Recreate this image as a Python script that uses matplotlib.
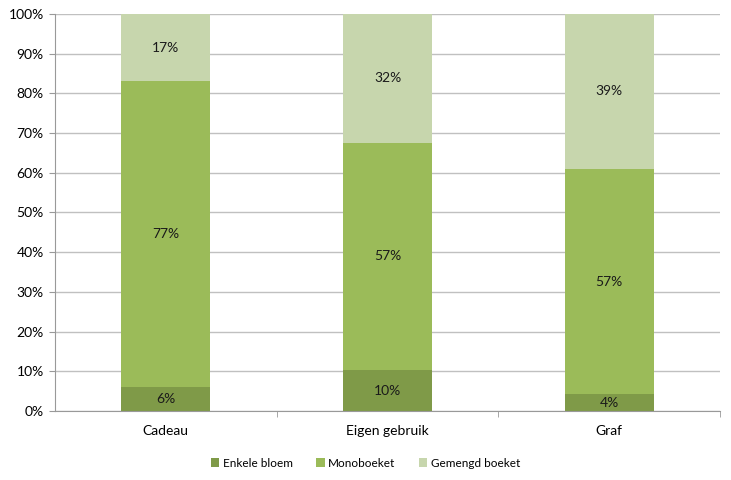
import matplotlib
matplotlib.use("Agg")
import matplotlib.pyplot as plt
import numpy as np
from matplotlib.ticker import PercentFormatter

categories = ["Cadeau", "Eigen gebruik", "Graf"]
series_names = ["Enkele bloem", "Monoboeket", "Gemengd boeket"]
enkele_bloem = [6.0, 10.3, 4.2]
monoboeket = [77.1, 57.3, 56.8]
gemengd_boeket = [16.9, 32.4, 39.0]
colors = ["#7f9a48", "#9bbb59", "#c7d6ad"]

plt.rcParams["font.family"] = ["Lato", "DejaVu Sans"]

fig = plt.figure(figsize=(7.31, 4.8), dpi=100)
ax = fig.add_axes([0.0752, 0.14375, 0.9098, 0.8271])

x = np.arange(len(categories))
bottom = np.zeros(len(categories))
for name, vals, col in zip(series_names, [enkele_bloem, monoboeket, gemengd_boeket], colors):
    vals = np.array(vals)
    ax.bar(x, vals, width=0.4, bottom=bottom, color=col, label=name, zorder=2)
    for xi, b, v in zip(x, bottom, vals):
        ax.text(xi, b + v / 2, f"{round(v):.0f}%", ha="center", va="center",
                fontsize=10, color="#1a1a1a", zorder=3)
    bottom += vals

ax.set_xlim(-0.5, 2.5)
ax.set_ylim(0, 100)
ax.set_yticks(np.arange(0, 101, 10))
ax.yaxis.set_major_formatter(PercentFormatter(decimals=0))
ax.grid(axis="y", color="#c0c0c0", linewidth=1, zorder=0)
ax.set_xticks(x)
ax.set_xticklabels(categories, fontsize=10)
ax.set_xticks([0.5, 1.5, 2.5], minor=True)
ax.tick_params(axis="x", which="major", length=0, pad=10)
ax.tick_params(axis="x", which="minor", length=4, color="#999999")
ax.tick_params(axis="y", length=4, color="#999999", labelsize=10, pad=4)

for s in ["top", "right"]:
    ax.spines[s].set_visible(False)
ax.spines["left"].set_color("#999999")
ax.spines["bottom"].set_color("#999999")

fig.legend(loc="center", bbox_to_anchor=(0.5, 0.035), ncol=3, frameon=False,
           fontsize=8.5, handlelength=0.7, handleheight=0.7, handletextpad=0.3,
           columnspacing=2.0)

fig.savefig("out.png", dpi=100)
